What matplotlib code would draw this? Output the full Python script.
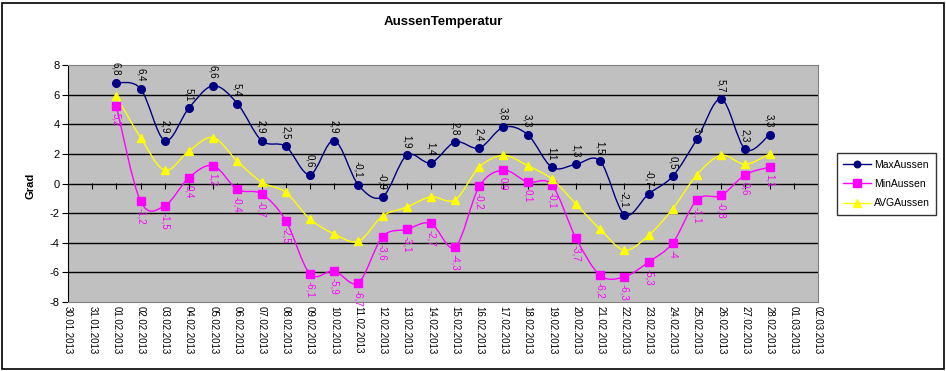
import numpy as np
import pandas as pd
import matplotlib
matplotlib.use('Agg')
import matplotlib.pyplot as plt
import matplotlib.dates as mdates
from matplotlib.path import Path
from matplotlib.patches import PathPatch, Rectangle
from matplotlib.lines import Line2D

plt.rcParams['font.family'] = ['Liberation Sans', 'DejaVu Sans']
plt.rcParams['axes.unicode_minus'] = False

dates = ['01.02.2013', '02.02.2013', '03.02.2013', '04.02.2013', '05.02.2013',
         '06.02.2013', '07.02.2013', '08.02.2013', '09.02.2013', '10.02.2013',
         '11.02.2013', '12.02.2013', '13.02.2013', '14.02.2013', '15.02.2013',
         '16.02.2013', '17.02.2013', '18.02.2013', '19.02.2013', '20.02.2013',
         '21.02.2013', '22.02.2013', '23.02.2013', '24.02.2013', '25.02.2013',
         '26.02.2013', '27.02.2013', '28.02.2013']
max_aussen = [6.8, 6.4, 2.9, 5.1, 6.6, 5.4, 2.9, 2.5, 0.6, 2.9, -0.1, -0.9, 1.9, 1.4,
              2.8, 2.4, 3.8, 3.3, 1.1, 1.3, 1.5, -2.1, -0.7, 0.5, 3.0, 5.7, 2.3, 3.3]
min_aussen = [5.2, -1.2, -1.5, 0.4, 1.2, -0.4, -0.7, -2.5, -6.1, -5.9, -6.7, -3.6, -3.1, -2.7,
              -4.3, -0.2, 0.9, 0.1, -0.1, -3.7, -6.2, -6.3, -5.3, -4.0, -1.1, -0.8, 0.6, 1.1]
avg_aussen = [5.9, 3.1, 0.9, 2.2, 3.1, 1.5, 0.1, -0.6, -2.4, -3.4, -3.9, -2.2, -1.6, -0.9,
              -1.1, 1.1, 1.9, 1.2, 0.3, -1.4, -3.1, -4.5, -3.5, -1.7, 0.6, 1.9, 1.3, 2.0]
x_start, x_end = '30.01.2013', '02.03.2013'
y_ticks = [-8, -6, -4, -2, 0, 2, 4, 6, 8]


def smooth_path(x, y):
    # Excel-like smoothed line: Catmull-Rom converted to cubic Bezier segments
    p = np.column_stack([x, y])
    verts = [p[0]]
    codes = [Path.MOVETO]
    n = len(p)
    for i in range(n - 1):
        p0 = p[i - 1] if i > 0 else p[i]
        p3 = p[i + 2] if i + 2 < n else p[i + 1]
        c1 = p[i] + (p[i + 1] - p0) / 6.0
        c2 = p[i + 1] - (p3 - p[i]) / 6.0
        verts += [c1, c2, p[i + 1]]
        codes += [Path.CURVE4] * 3
    return Path(verts, codes)


def fmt(v):
    return ('%g' % v).replace('.', ',')


x = mdates.date2num(pd.to_datetime(dates, format='%d.%m.%Y'))

fig = plt.figure(figsize=(9.46, 3.71), dpi=100)
ax = fig.add_axes([68 / 946, 69 / 371, 750 / 946, 237 / 371])
ax.set_facecolor('#c0c0c0')

series = [
    (max_aussen, '#000080', 'o', 5.5, 'MaxAussen'),
    (min_aussen, '#ff00ff', 's', 6, 'MinAussen'),
    (avg_aussen, '#ffff00', '^', 6, 'AVGAussen'),
]
handles = []
for vals, col, mk, ms, name in series:
    ax.add_patch(PathPatch(smooth_path(x, vals), facecolor='none', edgecolor=col, lw=1, zorder=3))
    ax.plot(x, vals, linestyle='none', marker=mk, color=col, markersize=ms, zorder=4)
    handles.append(Line2D([], [], color=col, marker=mk, markersize=ms * 0.85, lw=1, label=name))

for xi, v in zip(x, max_aussen):
    ax.annotate(fmt(v), (xi, v), xytext=(0, 5), textcoords='offset points',
                rotation=-90, ha='center', va='bottom', fontsize=7, color='black', zorder=5)
for xi, v in zip(x, min_aussen):
    ax.annotate(fmt(v), (xi, v), xytext=(0, -5), textcoords='offset points',
                rotation=-90, ha='center', va='top', fontsize=7, color='#ff00ff', zorder=5)

ax.set_ylim(-8, 8)
ax.set_yticks(y_ticks)
ax.set_yticklabels([str(t) for t in y_ticks], fontsize=8)
for t in y_ticks[1:-1]:
    ax.axhline(t, color='black', lw=1, zorder=1)

ax.set_xlim(mdates.date2num(pd.to_datetime(x_start, format='%d.%m.%Y')),
            mdates.date2num(pd.to_datetime(x_end, format='%d.%m.%Y')))
ax.xaxis.set_major_locator(mdates.DayLocator())
ax.xaxis.set_major_formatter(mdates.DateFormatter('%d.%m.%Y'))
ax.tick_params(axis='x', length=0, labelsize=7, labelrotation=-90, pad=3)
ax.tick_params(axis='y', length=4, direction='out', pad=2)

# tick marks on the zero line
sec = ax.secondary_xaxis(0.5)
sec.xaxis.set_major_locator(mdates.DayLocator())
sec.tick_params(axis='x', length=4, direction='out', labelbottom=False, labeltop=False,
                bottom=True, top=False)
sec.spines['bottom'].set_visible(False)
sec.spines['top'].set_visible(False)

for s in ['top', 'right', 'bottom']:
    ax.spines[s].set_color('#808080')
ax.spines['left'].set_color('black')

fig.text(443 / 946, 1 - 22 / 371, 'AussenTemperatur', ha='center', va='center',
         fontsize=9.5, fontweight='bold')
fig.text(30 / 946, 1 - 186 / 371, 'Grad', ha='center', va='center', rotation=90,
         fontsize=8, fontweight='bold')

leg = fig.legend(handles=handles, loc='center left', bbox_to_anchor=(832 / 946, 1 - 184 / 371),
                 fontsize=7.5, frameon=True, fancybox=False, edgecolor='black',
                 handlelength=2.6, borderpad=0.6, labelspacing=0.9, handletextpad=0.3)
leg.get_frame().set_linewidth(1)

fig.patches.append(Rectangle((2 / 946, 2 / 371), 942 / 946, 366 / 371, transform=fig.transFigure,
                             fill=False, edgecolor='black', lw=1.2))

fig.savefig('out.png', dpi=100)
